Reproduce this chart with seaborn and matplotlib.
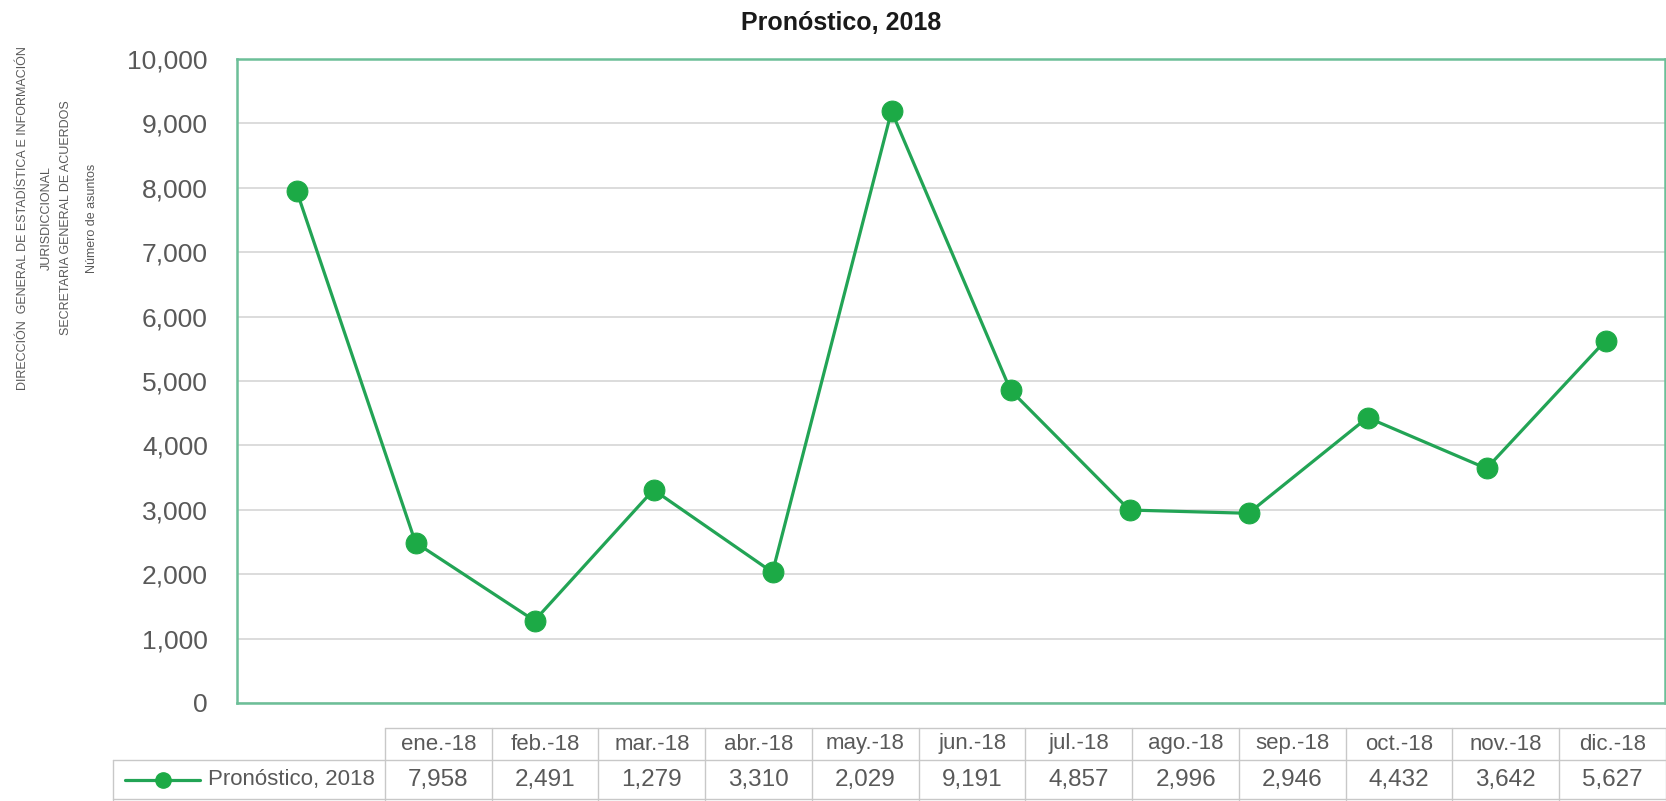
import numpy as np
import pandas as pd
import matplotlib
matplotlib.use("Agg")
import matplotlib.pyplot as plt
from matplotlib.ticker import FuncFormatter, MultipleLocator
from matplotlib.lines import Line2D
import seaborn as sns

# ---- data ----
title = "Pronóstico, 2018"
series_name = "Pronóstico, 2018"
months = ["ene.-18", "feb.-18", "mar.-18", "abr.-18", "may.-18", "jun.-18",
          "jul.-18", "ago.-18", "sep.-18", "oct.-18", "nov.-18", "dic.-18"]
values = [7958, 2491, 1279, 3310, 2029, 9191, 4857, 2996, 2946, 4432, 3642, 5627]
ylabel_lines = ["DIRECCIÓN  GENERAL DE ESTADÍSTICA E INFORMACIÓN",
                "JURISDICCIONAL",
                "SECRETARIA GENERAL DE ACUERDOS",
                "Número de asuntos"]

sns.set_theme(style="white")
plt.rcParams['font.family'] = ['Liberation Sans', 'DejaVu Sans']

W, H = 1666, 801
fig = plt.figure(figsize=(W / 100, H / 100), dpi=100)
fig.patch.set_facecolor("white")

GREEN_LINE = "#22a455"
GREEN_MARK = "#1caa46"
FRAME = "#6cbf98"
GRAY_TXT = "#595959"
GRID = "#d9d9d9"
TABLE_LINE = "#c8c8c8"

# main axes (pixel layout)
L, R, T, B = 237, 1665, 59, 703
ax = fig.add_axes([L / W, 1 - B / H, (R - L) / W, (B - T) / H])

df = pd.DataFrame({"pos": np.arange(len(months)), "month": months, "value": values})
sns.lineplot(data=df, x="pos", y="value", ax=ax, color=GREEN_LINE, linewidth=2.3,
             marker="o", markersize=15, markerfacecolor=GREEN_MARK,
             markeredgecolor=GREEN_MARK, legend=False, zorder=3)

ax.set_xlim(-0.5, len(months) - 0.5)
ax.set_ylim(0, 10000)
ax.yaxis.set_major_locator(MultipleLocator(1000))
ax.yaxis.set_major_formatter(FuncFormatter(lambda v, p: f"{int(v):,}"))
ax.set_xticks([])
ax.set_xlabel("")
ax.set_ylabel("")
ax.grid(axis="y", color=GRID, linewidth=1.3)
ax.grid(axis="x", visible=False)
ax.tick_params(axis="y", length=0, pad=21, labelsize=19, labelcolor=GRAY_TXT)
for s in ax.spines.values():
    s.set_color(FRAME)
    s.set_linewidth(1.8)
    s.set_visible(True)

# title
fig.text(841 / W, 1 - 23 / H, title, ha="center", va="center",
         fontsize=18, fontweight="bold", color="#1a1a1a")

# rotated y label lines
ylx = [23, 47, 66, 92]
for x, t in zip(ylx, ylabel_lines):
    fig.text(x / W, 1 - 218 / H, t, rotation=90, ha="center", va="center",
             fontsize=9, color=GRAY_TXT)

# data table in pixel coords
tab = fig.add_axes([0, 0, 1, 1], facecolor="none")
tab.set_xlim(0, W)
tab.set_ylim(H, 0)
tab.axis("off")

c0, cw = 385, (1666 - 385) / len(months)
y_top, y_mid, y_bot = 728, 760, 800
tab.plot([c0, W], [y_top, y_top], color=TABLE_LINE, lw=1)
tab.plot([113, W], [y_mid, y_mid], color=TABLE_LINE, lw=1)
tab.plot([113, W], [y_bot - 1, y_bot - 1], color=TABLE_LINE, lw=1)
tab.plot([113, 113], [y_mid, y_bot], color=TABLE_LINE, lw=1)
for k in range(len(months) + 1):
    x = c0 + k * cw
    tab.plot([x, x], [y_top, y_bot], color=TABLE_LINE, lw=1)
for k, (m, v) in enumerate(zip(months, values)):
    xc = c0 + (k + 0.5) * cw
    tab.text(xc, 744, m, ha="center", va="center", fontsize=16, color=GRAY_TXT)
    tab.text(xc, 780, f"{v:,}", ha="center", va="center", fontsize=17.5, color=GRAY_TXT)

tab.add_line(Line2D([125, 200], [780, 780], color=GREEN_LINE, lw=2.3))
tab.add_line(Line2D([163], [780], marker="o", markersize=11, color=GREEN_MARK, lw=0))
tab.text(208, 780, series_name, ha="left", va="center", fontsize=16, color=GRAY_TXT)

fig.savefig("out.png", dpi=100, facecolor="white")
